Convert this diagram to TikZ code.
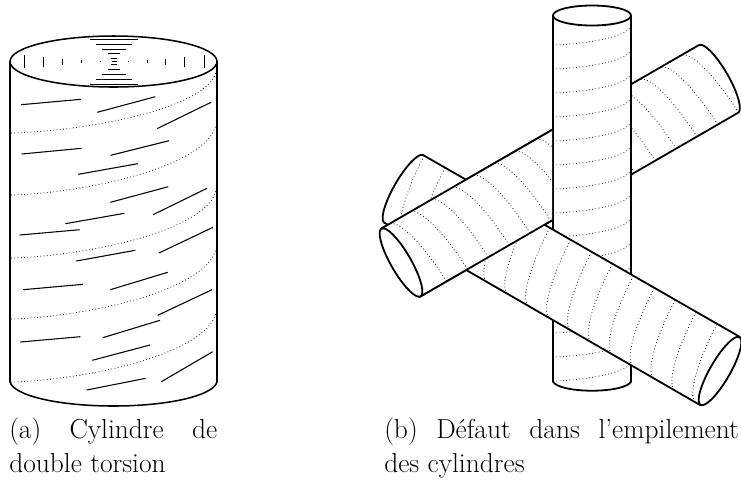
\documentclass[tikz,border=0pt]{standalone}
\usepackage{fontspec}
\newcommand{\helixcurve}[9]{% ox oy ux uy vx vy R u0 rise
  \draw[dotline] plot[domain=6:174,samples=36]
    ({#1+(#3)*(#8+(#9)/pi*(rad(\x)-sin(\x)))-(#5)*(#7)*cos(\x)},
     {#2+(#4)*(#8+(#9)/pi*(rad(\x)-sin(\x)))-(#6)*(#7)*cos(\x)});}
\newcommand{\cylAshape}{%
  \fill[white] plot[domain=-90:90,samples=40] ({718.5+10*.867*cos(\x)+39*.5*sin(\x)},{79-10*.5*cos(\x)+39*.867*sin(\x)})
     -- (420,296.7) -- (381.7,228.3) -- cycle;
  \foreach \nn in {0,...,14} {\helixcurve{401}{262.5}{.867}{-.5}{-.5}{-.867}{39}{30+24.07*\nn}{-21}}
  \draw[thick line] (381.7,228.3) -- (699,45);
  \draw[thick line] plot[domain=-90:90,samples=40] ({718.5+10*.867*cos(\x)+39*.5*sin(\x)},{79-10*.5*cos(\x)+39*.867*sin(\x)})
     -- (420,296.7);
}
\tikzset{
  dotline/.style={line width=.6pt,dash pattern=on .55pt off 1.9pt},
  thick line/.style={line width=1.35pt,line join=round,line cap=round},
  mid line/.style={line width=1.15pt,line join=round},
  fine line/.style={line width=.8pt},
  tick line/.style={line width=.6pt},
  caption/.style={anchor=north west,inner sep=0pt,align=left,font=\fontsize{20.6}{25.6}\selectfont},
}
\begin{document}
\begin{tikzpicture}[x=.75pt,y=-.75pt]
\useasboundingbox (0,0) rectangle (741,480);
% --- left cylinder ---
\draw[mid line] (10,61.5) -- (10,382) .. controls (14,396) and (60,406) .. (113.5,406) .. controls (167,406) and (213,396) .. (217,382) -- (217,61.5);
\draw[mid line] (113.5,61.5) ellipse [x radius=103.5,y radius=25.5];
\foreach \xa/\h in {24/6.5,43/5,62/3,81/1.5,100/.6,128/.6,147/1.5,165/3,184/5,204/6.5}
  \draw[tick line] (\xa,61.5-\h) -- (\xa,61.5+\h);
\foreach \ya/\h in {39/24,44/18,49/12,53.7/6,58/3,61.3/2.5,64.7/3,69.3/6,74/12,79/18,84/24}
  \draw[tick line] (114-\h,\ya) -- (114+\h,\ya);
\foreach \xa/\ya/\xb/\yb in {21/104.7/81/99.3, 97.3/112.3/155.3/96.7, 157/128.7/211/102.3,
  21.7/154/81.7/148.3, 110.7/155.3/169/140.7, 78.3/174.3/137.7/163.7,
  110.3/202.3/168.3/186.7, 153/214.7/207/188.3, 65.3/223.7/124.3/213.3,
  19.7/235/79.7/229.7, 159/253/213/227.3, 76.3/261/135.3/250.3,
  23/289.7/83/284.3, 110.3/289.7/167.7/272.3, 157.7/315.3/212/289.7,
  102.7/337.7/160/320.3, 20.3/342/80.3/336.7, 92.3/360.3/150/345,
  86.7/390/145.7/378.3, 161.3/381.7/212.7/351.7}
  \draw[fine line] (\xa,\ya) -- (\xb,\yb);
\foreach \yy/\rr in {133/65,195/75,258/72,319/75,382/74}
  {\helixcurve{113.5}{\yy}{0}{-1}{1}{0}{103}{0}{\rr}}
% --- cylinder A (behind the vertical one) ---
\cylAshape
% --- vertical cylinder ---
\fill[white] (553,15.5) rectangle (631,382);
\foreach \nn in {0,...,14} {\helixcurve{592}{45+24*\nn}{0}{-1}{1}{0}{39}{0}{20}}
\draw[thick line] (553,15.5) -- (553,381.7) .. controls (556,387) and (572,390.7) .. (592,390.7) .. controls (612,390.7) and (628,387) .. (631,381.7) -- (631,15.5);
\draw[thick line] (592,15.5) ellipse [x radius=39,y radius=10];
% --- cylinder B (in front of the vertical one) ---
\fill[white] plot[domain=-90:90,samples=40] ({404-10*.867*cos(\x)+39*.5*sin(\x)},{189-10*.5*cos(\x)-39*.867*sin(\x)})
   -- (740,337) -- (700,405) -- cycle;
\foreach \nn in {0,...,14} {\helixcurve{404}{189}{.867}{.5}{-.5}{.867}{39}{1+24.1*\nn}{21}}
\draw[thick line] (740,337) -- (423,155);
\draw[thick line] plot[domain=90:-90,samples=40] ({404-10*.867*cos(\x)-39*.5*sin(\x)},{189-10*.5*cos(\x)+39*.867*sin(\x)});
\draw[thick line] (384.5,222.8) -- (700,405);
\draw[thick line] plot[domain=0:360,samples=60] ({720+10*.867*cos(\x)+39*.5*sin(\x)},{371+10*.5*cos(\x)-39*.867*sin(\x)}) -- cycle;
% --- cylinder A again, over B on the left of the vertical cylinder ---
\begin{scope}
\clip (370,100) rectangle (552.2,310);
\cylAshape
\fill[white] plot[domain=0:360,samples=60] ({401-10*.867*cos(\x)+39*.5*sin(\x)},{262.5+10*.5*cos(\x)+39*.867*sin(\x)}) -- cycle;
\draw[thick line] plot[domain=0:360,samples=60] ({401-10*.867*cos(\x)+39*.5*sin(\x)},{262.5+10*.5*cos(\x)+39*.867*sin(\x)}) -- cycle;
\end{scope}
% --- captions ---
\node[caption] (capa) at (9,418) {\makebox[156pt][s]{(a) Cylindre de}\\double torsion};
\node[caption] (capb) at (384,418) {\makebox[266pt][s]{(b) Défaut dans l'empilement}\\des cylindres};
\end{tikzpicture}
\end{document}
